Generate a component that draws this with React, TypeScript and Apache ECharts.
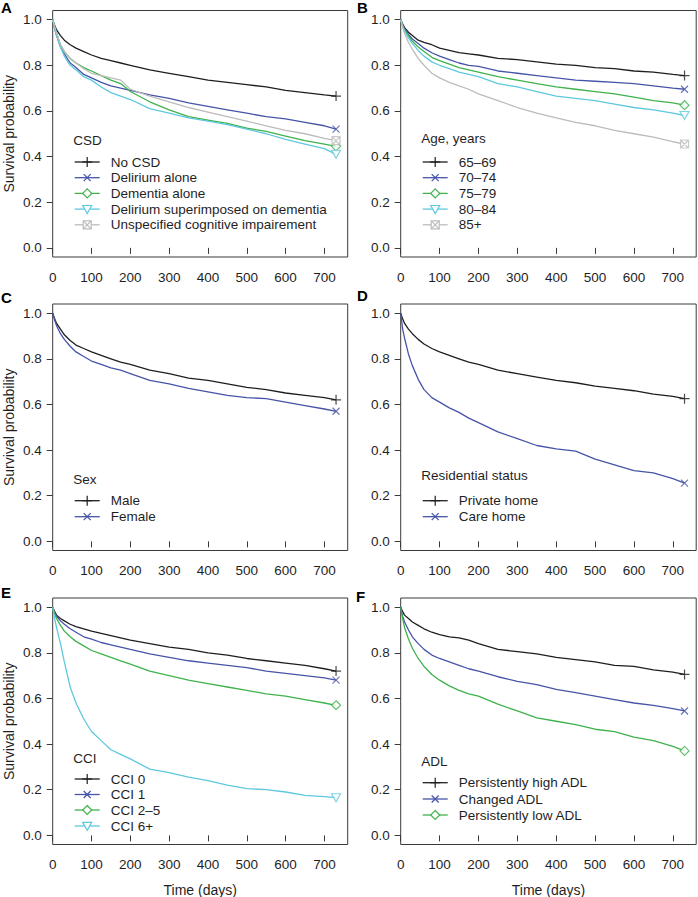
import React, { useEffect, useRef } from "react";
import * as echarts from "echarts";

// ---------- data ----------
const TIMES = [0, 5, 10, 20, 30, 45, 60, 80, 100, 125, 150, 175, 200, 250, 300, 350, 400, 450, 500, 550, 600, 650, 700, 730];
const X_TICKS = [0, 100, 200, 300, 400, 500, 600, 700];
const Y_TICKS = [0, 0.2, 0.4, 0.6, 0.8, 1.0];

// A: CSD
const CSD_LABELS = ["No CSD", "Delirium alone", "Dementia alone", "Delirium superimposed on dementia", "Unspecified cognitive impairement"];
const CSD_NONE = [1, 0.975, 0.955, 0.93, 0.91, 0.89, 0.875, 0.86, 0.845, 0.83, 0.82, 0.81, 0.8, 0.78, 0.765, 0.75, 0.735, 0.725, 0.715, 0.705, 0.69, 0.68, 0.67, 0.665];
const CSD_DELIRIUM = [1, 0.96, 0.93, 0.88, 0.85, 0.81, 0.79, 0.76, 0.745, 0.725, 0.71, 0.7, 0.69, 0.67, 0.655, 0.635, 0.62, 0.605, 0.59, 0.575, 0.565, 0.55, 0.535, 0.52];
const CSD_DEMENTIA = [1, 0.97, 0.94, 0.89, 0.86, 0.83, 0.81, 0.79, 0.775, 0.755, 0.735, 0.72, 0.685, 0.64, 0.605, 0.575, 0.56, 0.545, 0.525, 0.51, 0.49, 0.47, 0.455, 0.445];
const CSD_DSD = [1, 0.96, 0.93, 0.88, 0.84, 0.8, 0.78, 0.75, 0.735, 0.705, 0.68, 0.665, 0.65, 0.61, 0.59, 0.57, 0.555, 0.54, 0.52, 0.5, 0.475, 0.455, 0.435, 0.41];
const CSD_UNSPEC = [1, 0.97, 0.94, 0.89, 0.86, 0.83, 0.81, 0.785, 0.765, 0.755, 0.745, 0.735, 0.695, 0.665, 0.64, 0.615, 0.595, 0.575, 0.555, 0.535, 0.515, 0.5, 0.48, 0.47];

// B: Age
const AGE_LABELS = ["65\u201369", "70\u201374", "75\u201379", "80\u201384", "85+"];
const AGE_65 = [1, 0.98, 0.965, 0.945, 0.93, 0.91, 0.9, 0.89, 0.875, 0.865, 0.855, 0.85, 0.845, 0.83, 0.825, 0.815, 0.805, 0.8, 0.79, 0.785, 0.775, 0.77, 0.76, 0.755];
const AGE_70 = [1, 0.975, 0.96, 0.935, 0.915, 0.895, 0.875, 0.855, 0.84, 0.825, 0.81, 0.8, 0.795, 0.775, 0.765, 0.755, 0.745, 0.735, 0.73, 0.725, 0.72, 0.71, 0.7, 0.695];
const AGE_75 = [1, 0.975, 0.955, 0.93, 0.905, 0.88, 0.86, 0.835, 0.82, 0.805, 0.79, 0.78, 0.77, 0.75, 0.735, 0.72, 0.705, 0.695, 0.685, 0.675, 0.66, 0.645, 0.635, 0.625];
const AGE_80 = [1, 0.97, 0.95, 0.92, 0.895, 0.865, 0.84, 0.815, 0.8, 0.785, 0.77, 0.76, 0.75, 0.72, 0.705, 0.685, 0.665, 0.655, 0.645, 0.63, 0.615, 0.605, 0.59, 0.58];
const AGE_85 = [1, 0.965, 0.94, 0.9, 0.87, 0.83, 0.8, 0.765, 0.745, 0.725, 0.71, 0.695, 0.675, 0.645, 0.615, 0.59, 0.57, 0.55, 0.535, 0.515, 0.5, 0.485, 0.465, 0.455];

// C: Sex
const SEX_LABELS = ["Male", "Female"];
const SEX_MALE = [1, 0.975, 0.955, 0.93, 0.905, 0.88, 0.86, 0.845, 0.83, 0.815, 0.8, 0.785, 0.775, 0.75, 0.735, 0.715, 0.705, 0.69, 0.675, 0.665, 0.65, 0.64, 0.63, 0.62];
const SEX_FEMALE = [1, 0.97, 0.945, 0.91, 0.885, 0.855, 0.83, 0.81, 0.79, 0.775, 0.76, 0.75, 0.735, 0.705, 0.69, 0.67, 0.655, 0.64, 0.63, 0.625, 0.61, 0.595, 0.58, 0.57];

// D: Residential status
const RES_LABELS = ["Private home", "Care home"];
const RES_PRIVATE = [1, 0.975, 0.955, 0.93, 0.91, 0.885, 0.865, 0.845, 0.83, 0.815, 0.8, 0.785, 0.775, 0.75, 0.735, 0.72, 0.705, 0.695, 0.68, 0.67, 0.66, 0.645, 0.635, 0.625];
const RES_CARE = [1, 0.93, 0.89, 0.82, 0.77, 0.71, 0.665, 0.63, 0.61, 0.585, 0.565, 0.54, 0.52, 0.48, 0.45, 0.42, 0.405, 0.395, 0.36, 0.335, 0.31, 0.3, 0.275, 0.255];

// E: CCI
const CCI_LABELS = ["CCI 0", "CCI 1", "CCI 2\u20135", "CCI 6+"];
const CCI_0 = [1, 0.98, 0.965, 0.95, 0.94, 0.925, 0.915, 0.905, 0.895, 0.885, 0.875, 0.865, 0.855, 0.84, 0.825, 0.815, 0.8, 0.79, 0.775, 0.765, 0.755, 0.745, 0.73, 0.72];
const CCI_1 = [1, 0.975, 0.96, 0.94, 0.925, 0.905, 0.89, 0.87, 0.86, 0.845, 0.835, 0.825, 0.815, 0.795, 0.78, 0.765, 0.755, 0.745, 0.735, 0.72, 0.71, 0.7, 0.69, 0.68];
const CCI_2 = [1, 0.97, 0.95, 0.92, 0.895, 0.87, 0.85, 0.83, 0.81, 0.795, 0.78, 0.765, 0.75, 0.72, 0.7, 0.68, 0.665, 0.65, 0.635, 0.62, 0.61, 0.595, 0.58, 0.57];
const CCI_6 = [1, 0.95, 0.91, 0.84, 0.76, 0.65, 0.58, 0.51, 0.455, 0.415, 0.375, 0.355, 0.335, 0.29, 0.275, 0.255, 0.24, 0.22, 0.205, 0.2, 0.19, 0.175, 0.17, 0.165];

// F: ADL
const ADL_LABELS = ["Persistently high ADL", "Changed ADL", "Persistently low ADL"];
const ADL_HIGH = [1, 0.98, 0.965, 0.95, 0.935, 0.92, 0.905, 0.89, 0.88, 0.87, 0.865, 0.855, 0.84, 0.815, 0.805, 0.795, 0.78, 0.77, 0.76, 0.745, 0.74, 0.725, 0.715, 0.705];
const ADL_CHANGED = [1, 0.96, 0.935, 0.9, 0.87, 0.84, 0.815, 0.79, 0.775, 0.76, 0.745, 0.73, 0.72, 0.695, 0.675, 0.66, 0.64, 0.625, 0.61, 0.595, 0.58, 0.57, 0.555, 0.545];
const ADL_LOW = [1, 0.95, 0.91, 0.86, 0.82, 0.775, 0.74, 0.705, 0.68, 0.655, 0.635, 0.62, 0.61, 0.575, 0.545, 0.515, 0.5, 0.485, 0.465, 0.455, 0.43, 0.415, 0.39, 0.37];

// ---------- styles ----------
const FONT = "'Liberation Sans', Arial, Helvetica, sans-serif";
const TXT = "#1f1f1f";
const BLACK = "#1e1e1e";
const BLUE = "#4654a8";
const GREEN = "#3fb24c";
const CYAN = "#5ec8de";
const GRAY = "#bcbcbc";
const COLORS = [BLACK, BLUE, GREEN, CYAN, GRAY];
const MARKERS = ["plus", "cross", "diamond", "triangle", "squarex"];

const SYMBOL_PATHS: Record<string, string> = {
  plus: "path://M0,5L10,5M5,0L5,10",
  cross: "path://M0,0L10,10M0,10L10,0",
  diamond: "path://M5,0L10,5L5,10L0,5Z",
  triangle: "path://M0,0L10,0L5,9Z",
  squarex: "path://M0,0L10,0L10,10L0,10ZM0,0L10,10M0,10L10,0",
};
const SYMBOL_SIZES: Record<string, number | number[]> = {
  plus: 10,
  cross: 7,
  diamond: 9,
  triangle: [9, 8],
  squarex: 8,
};

const COL_LEFT = [52.7, 400.7];
const COL_WIDTH = [295, 295.5];
const ROW_TOP = [10.5, 304, 598];
const PLOT_H = 246.5;

type Panel = {
  letter: string;
  title: string;
  labels: string[];
  values: number[][];
  col: number;
  row: number;
  letterPos: [number, number];
  titleY: number;
  entryY: number[];
};

const PANELS: Panel[] = [
  { letter: "A", title: "CSD", labels: CSD_LABELS, values: [CSD_NONE, CSD_DELIRIUM, CSD_DEMENTIA, CSD_DSD, CSD_UNSPEC], col: 0, row: 0, letterPos: [1, 7], titleY: 140, entryY: [162, 177.7, 193.4, 209.1, 224.8] },
  { letter: "B", title: "Age, years", labels: AGE_LABELS, values: [AGE_65, AGE_70, AGE_75, AGE_80, AGE_85], col: 1, row: 0, letterPos: [357, 7], titleY: 138.5, entryY: [162, 177.7, 193.4, 209.1, 224.8] },
  { letter: "C", title: "Sex", labels: SEX_LABELS, values: [SEX_MALE, SEX_FEMALE], col: 0, row: 1, letterPos: [1, 297], titleY: 479, entryY: [500.7, 516.7] },
  { letter: "D", title: "Residential status", labels: RES_LABELS, values: [RES_PRIVATE, RES_CARE], col: 1, row: 1, letterPos: [357, 295], titleY: 475, entryY: [500.7, 516.7] },
  { letter: "E", title: "CCI", labels: CCI_LABELS, values: [CCI_0, CCI_1, CCI_2, CCI_6], col: 0, row: 2, letterPos: [1, 592.5], titleY: 758.3, entryY: [779, 794.5, 810, 826] },
  { letter: "F", title: "ADL", labels: ADL_LABELS, values: [ADL_HIGH, ADL_CHANGED, ADL_LOW], col: 1, row: 2, letterPos: [356, 596], titleY: 761.7, entryY: [782.7, 799, 815] },
];

function markerGraphics(kind: string, cx: number, cy: number, color: string): any[] {
  const st = { stroke: color, lineWidth: 1.2, fill: "none" };
  const ln = (x1: number, y1: number, x2: number, y2: number) => ({ type: "line", shape: { x1, y1, x2, y2 }, style: st, z: 20 });
  if (kind === "plus") return [ln(cx - 5, cy, cx + 5, cy), ln(cx, cy - 5, cx, cy + 5)];
  if (kind === "cross") return [ln(cx - 3.5, cy - 3.5, cx + 3.5, cy + 3.5), ln(cx - 3.5, cy + 3.5, cx + 3.5, cy - 3.5)];
  if (kind === "diamond")
    return [{ type: "polygon", shape: { points: [[cx, cy - 4.5], [cx + 4.5, cy], [cx, cy + 4.5], [cx - 4.5, cy]] }, style: { ...st, fill: "#fff" }, z: 20 }];
  if (kind === "triangle")
    return [{ type: "polygon", shape: { points: [[cx - 4.5, cy - 3.6], [cx + 4.5, cy - 3.6], [cx, cy + 4.4]] }, style: { ...st, fill: "#fff" }, z: 20 }];
  return [
    { type: "rect", shape: { x: cx - 4, y: cy - 4, width: 8, height: 8 }, style: { ...st, fill: "#fff" }, z: 20 },
    ln(cx - 4, cy - 4, cx + 4, cy + 4),
    ln(cx - 4, cy + 4, cx + 4, cy - 4),
  ];
}

function text(str: string, x: number, y: number, opts: any = {}): any {
  return {
    type: "text",
    z: 20,
    style: {
      text: str,
      x,
      y,
      fill: TXT,
      fontFamily: FONT,
      fontSize: 13.5,
      textAlign: "left",
      textVerticalAlign: "middle",
      ...opts,
    },
  };
}

function buildOption() {
  const grid: any[] = [];
  const xAxis: any[] = [];
  const yAxis: any[] = [];
  const series: any[] = [];
  const graphic: any[] = [];

  PANELS.forEach((p, i) => {
    const left = COL_LEFT[p.col];
    const top = ROW_TOP[p.row];
    grid.push({
      left,
      top,
      width: COL_WIDTH[p.col],
      height: PLOT_H,
      show: true,
      borderColor: "#3a3a3a",
      borderWidth: 1,
      backgroundColor: "transparent",
      containLabel: false,
    });
    xAxis.push({
      type: "value",
      gridIndex: i,
      min: 0,
      max: 760,
      axisLine: { show: false },
      splitLine: { show: false },
      axisTick: { show: true, length: 6, lineStyle: { color: "#3a3a3a", width: 1 }, customValues: X_TICKS },
      axisLabel: {
        customValues: X_TICKS,
        margin: 13,
        color: TXT,
        fontFamily: FONT,
        fontSize: 13.5,
        formatter: (v: number) => String(v),
      },
    });
    yAxis.push({
      type: "value",
      gridIndex: i,
      min: -0.04,
      max: 1.04,
      axisLine: { show: false },
      splitLine: { show: false },
      axisTick: { show: true, length: 6, lineStyle: { color: "#3a3a3a", width: 1 }, customValues: Y_TICKS },
      axisLabel: {
        customValues: Y_TICKS,
        margin: 11,
        color: TXT,
        fontFamily: FONT,
        fontSize: 13.5,
        formatter: (v: number) => v.toFixed(1),
      },
    });

    p.values.forEach((vals, j) => {
      const color = COLORS[j];
      series.push({
        type: "line",
        name: p.labels[j],
        xAxisIndex: i,
        yAxisIndex: i,
        data: TIMES.map((t, k) => [t, vals[k]]),
        symbol: "none",
        showSymbol: false,
        lineStyle: { color, width: 1.3 },
        z: 2 + j,
        silent: true,
      });
      const mk = MARKERS[j];
      series.push({
        type: "scatter",
        name: p.labels[j] + " censor",
        xAxisIndex: i,
        yAxisIndex: i,
        data: [[TIMES[TIMES.length - 1], vals[vals.length - 1]]],
        symbol: SYMBOL_PATHS[mk],
        symbolSize: SYMBOL_SIZES[mk],
        itemStyle: { color: mk === "plus" || mk === "cross" ? "none" : "#fff", borderColor: color, borderWidth: 1.2 },
        z: 10,
        silent: true,
      });
    });

    // panel letter
    graphic.push(text(p.letter, p.letterPos[0], p.letterPos[1], { fontWeight: "bold", fontSize: 15, fill: "#000" }));

    // legend
    const lx = left + 22;
    graphic.push(text(p.title, left + 20.5, p.titleY));
    p.labels.forEach((lab, j) => {
      const y = p.entryY[j];
      const color = COLORS[j];
      graphic.push({ type: "line", shape: { x1: lx, y1: y, x2: lx + 25, y2: y }, style: { stroke: color, lineWidth: 1.3 }, z: 19 });
      markerGraphics(MARKERS[j], lx + 12.5, y, color).forEach((g) => graphic.push(g));
      graphic.push(text(lab, left + 58, y));
    });

    // y axis name on left column
    if (p.col === 0) {
      graphic.push({
        type: "text",
        x: 9,
        y: top + PLOT_H / 2,
        rotation: Math.PI / 2,
        z: 20,
        style: { text: "Survival probability", x: 0, y: 0, fill: TXT, fontFamily: FONT, fontSize: 14, textAlign: "center", textVerticalAlign: "middle" },
      });
    }
    // x axis name on bottom row
    if (p.row === 2) {
      graphic.push(text("Time (days)", left + COL_WIDTH[p.col] / 2, 890, { textAlign: "center", fontSize: 14 }));
    }
  });

  return {
    animation: false,
    backgroundColor: "#ffffff",
    grid,
    xAxis,
    yAxis,
    series,
    graphic: { elements: graphic },
  };
}

export default function App() {
  const ref = useRef<HTMLDivElement>(null);
  useEffect(() => {
    document.body.style.margin = "0";
    if (!ref.current) return;
    const chart = echarts.init(ref.current, undefined, { renderer: "svg" });
    chart.setOption(buildOption() as any);
    return () => chart.dispose();
  }, []);
  return <div ref={ref} style={{ position: "absolute", left: 0, top: 0, width: 698, height: 897, background: "#fff" }} />;
}
